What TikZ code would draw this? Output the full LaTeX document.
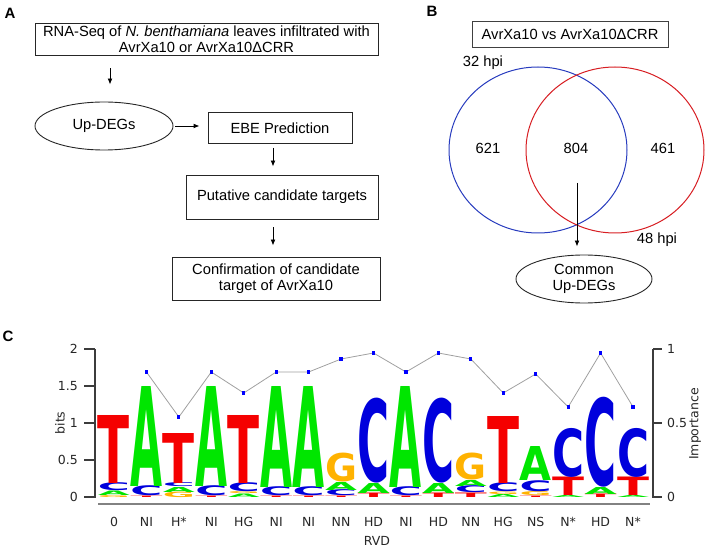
\documentclass[tikz,border=0pt]{standalone}
\usepackage{fontspec}
\usepackage{graphicx}
\setmainfont{Liberation Sans}
\newfontfamily\logofont{DejaVu Sans}
\usetikzlibrary{shapes.geometric,arrows.meta,calc}
\definecolor{lred}{RGB}{245,0,0}
\definecolor{lgreen}{RGB}{0,230,0}
\definecolor{lblue}{RGB}{0,0,220}
\definecolor{lorange}{RGB}{255,178,0}
\definecolor{vblue}{RGB}{40,60,190}
\definecolor{vred}{RGB}{215,30,35}
\definecolor{axgray}{RGB}{60,60,60}
\definecolor{impgray}{RGB}{160,160,160}
\definecolor{basegray}{RGB}{130,130,130}
\tikzset{
  txt/.style={font=\fontsize{14.7}{16.5}\selectfont, align=center, inner sep=0pt},
  flowbox/.style={draw=black!85, line width=0.9pt, txt},
  oval/.style={ellipse, draw=black!85, line width=0.9pt, txt, inner sep=0pt},
  arr/.style={-{Latex[length=6pt,width=4.8pt]}, line width=0.9pt},
  panel/.style={font=\fontsize{15}{15}\selectfont\bfseries, inner sep=0pt},
  ctxt/.style={font=\logofont\fontsize{12.5}{13}\selectfont, inner sep=0pt, text=black!85},
  venn/.style={ellipse, line width=1pt, minimum width=178pt, minimum height=166pt, inner sep=0pt},
}
\newcommand\LL[5]{%
  \pgfmathsetmacro\lx{114+(#1-1)*32.44}%
  \pgfmathsetmacro\lh{#2-#3}%
  \node[inner sep=0pt, outer sep=0pt, anchor=south, text=#5] (L#1#4) at (\lx,#2)
    {\resizebox*{32pt}{\lh pt}{\logofont\bfseries #4}};%
}
\begin{document}
\begin{tikzpicture}[x=1pt,y=-1pt]
\useasboundingbox (0,0) rectangle (705,548);
% ---------------- Panel A
\node[panel] (lA) at (10,13) {A};
\node[flowbox, minimum width=343pt, minimum height=32pt] (rna) at (206.5,39)
  {RNA-Seq of \textit{N. benthamiana} leaves infiltrated with\\AvrXa10 or AvrXa10ΔCRR};
\node[oval, minimum width=138pt, minimum height=48pt] (up) at (104,126) {Up-DEGs};
\node[flowbox, minimum width=144pt, minimum height=31pt] (ebe) at (280,128) {EBE Prediction};
\node[flowbox, minimum width=192pt, minimum height=44pt] (put) at (282,197) {Putative candidate targets};
\node[flowbox, minimum width=208pt, minimum height=43pt] (conf) at (276,278.5)
  {Confirmation of candidate\\target of AvrXa10};
\coordinate (a1) at (110,0);
\coordinate (a2) at (273,0);
\draw[arr, shorten <=13pt, shorten >=17pt] (rna.south -| a1) -- (up.north -| a1);
\draw[arr, shorten <=2pt, shorten >=8pt] (up.east) -- (ebe.west |- up.east);
\draw[arr, shorten <=4pt, shorten >=8pt] (ebe.south -| a2) -- (put.north -| a2);
\draw[arr, shorten <=8pt, shorten >=11pt] (put.south -| a2) -- (conf.north -| a2);
% ---------------- Panel B
\node[panel] (lB) at (432,11) {B};
\node[flowbox, draw=black!75, minimum width=196pt, minimum height=26pt] (cmp) at (570,34) {AvrXa10 vs AvrXa10ΔCRR};
\node[venn, draw=vblue] (v32) at (538,150) {};
\node[venn, draw=vred] (v48) at (615,150) {};
\node[txt] (n621) at (488,148) {621};
\node[txt] (n804) at (576,148) {804};
\node[txt] (n461) at (663,148) {461};
\node[txt] (h32) at (483,63) {32 hpi};
\node[txt] (h48) at (657,240) {48 hpi};
\node[oval, minimum width=136pt, minimum height=48pt] (com) at (584,279) {Common\\Up-DEGs};
\coordinate (vs) at (577,183);
\draw[arr, shorten >=8pt] (vs) -- (com.north -| vs);
% ---------------- Panel C
\node[panel] (lC) at (8,336) {C};
% logo letters (column, bottom, top, letter, colour)
\LL{1}{497.5}{495.5}{G}{lorange}\LL{1}{495.5}{491}{A}{lgreen}\LL{1}{491}{483}{C}{lblue}\LL{1}{483}{415}{T}{lred}
\LL{2}{497.5}{496}{T}{lred}\LL{2}{496}{486}{C}{lblue}\LL{2}{486}{386}{A}{lgreen}
\LL{3}{497.5}{492}{G}{lorange}\LL{3}{492}{487}{A}{lgreen}\LL{3}{487}{483}{C}{lblue}\LL{3}{483}{433}{T}{lred}
\LL{4}{497.5}{496}{T}{lred}\LL{4}{496}{486}{C}{lblue}\LL{4}{486}{386}{A}{lgreen}
\LL{5}{497.5}{494}{A}{lgreen}\LL{5}{494}{492}{G}{lorange}\LL{5}{492}{483}{C}{lblue}\LL{5}{483}{415}{T}{lred}
\LL{6}{497.5}{496}{T}{lred}\LL{6}{496}{487}{C}{lblue}\LL{6}{487}{386}{A}{lgreen}
\LL{7}{497.5}{496}{T}{lred}\LL{7}{496}{487}{C}{lblue}\LL{7}{487}{386}{A}{lgreen}
\LL{8}{497.5}{496}{T}{lred}\LL{8}{496}{490}{C}{lblue}\LL{8}{490}{482}{A}{lgreen}\LL{8}{482}{453}{G}{lorange}
\LL{9}{497.5}{493}{T}{lred}\LL{9}{493}{483}{A}{lgreen}\LL{9}{483}{398}{C}{lblue}
\LL{10}{497.5}{496}{T}{lred}\LL{10}{496}{487}{C}{lblue}\LL{10}{487}{386}{A}{lgreen}
\LL{11}{497.5}{493}{T}{lred}\LL{11}{493}{483}{A}{lgreen}\LL{11}{483}{398}{C}{lblue}
\LL{12}{497.5}{493}{T}{lred}\LL{12}{493}{486}{C}{lblue}\LL{12}{486}{480}{A}{lgreen}\LL{12}{480}{453}{G}{lorange}
\LL{13}{497.5}{494.5}{A}{lgreen}\LL{13}{494.5}{492}{G}{lorange}\LL{13}{492}{483}{C}{lblue}\LL{13}{483}{416}{T}{lred}
\LL{14}{497.5}{496}{T}{lred}\LL{14}{496}{492}{G}{lorange}\LL{14}{492}{481}{C}{lblue}\LL{14}{481}{447}{A}{lgreen}
\LL{15}{497.5}{495.5}{A}{lgreen}\LL{15}{495.5}{477}{T}{lred}\LL{15}{477}{428}{C}{lblue}
\LL{16}{497.5}{494}{T}{lred}\LL{16}{494}{487}{A}{lgreen}\LL{16}{487}{397}{C}{lblue}
\LL{17}{497.5}{495.5}{A}{lgreen}\LL{17}{495.5}{477}{T}{lred}\LL{17}{477}{428}{C}{lblue}
% axes
\draw[basegray, line width=2pt] (98,503.5) -- (650,503.5);
\draw[axgray, line width=1.1pt] (95,349) -- (95,497.5);
\foreach \v/\lab [count=\i] in {0/0,0.5/0.5,1/1,1.5/1.5,2/2}{
  \draw[axgray, line width=1.1pt] (84,497-74*\v) -- (95,497-74*\v);
  \node[ctxt, anchor=east] (bt\i) at (78,497-74*\v) {\lab};
}
\node[ctxt, rotate=90] (bits) at (60,423) {bits};
\draw[axgray, line width=1.1pt] (653,349) -- (653,497.5);
\foreach \v/\lab [count=\i] in {0/0,0.5/0.5,1/1}{
  \draw[axgray, line width=1.1pt] (653,497-148*\v) -- (662,497-148*\v);
  \node[ctxt, anchor=west] (it\i) at (667,497-148*\v) {\lab};
}
\node[ctxt, rotate=90] (imp) at (695,424) {Importance};
\foreach \lab [count=\i] in {0,NI,H*,NI,HG,NI,NI,NN,HD,NI,HD,NN,HG,NS,N*,HD,N*}{
  \node[ctxt] (r\i) at ({114+(\i-1)*32.44},522) {\lab};
}
\node[ctxt] (rvd) at (377,540.5) {RVD};
% importance line
\draw[impgray, line width=0.8pt] plot coordinates {(146.44,372) (178.88,417) (211.32,372) (243.76,393) (276.2,372) (308.64,372) (341.08,359) (373.52,353) (405.96,372) (438.4,353) (470.84,359) (503.28,393) (535.72,374) (568.16,407) (600.6,353) (633.04,407)};
\foreach \px/\py in {146.44/372,178.88/417,211.32/372,243.76/393,276.2/372,308.64/372,341.08/359,373.52/353,405.96/372,438.4/353,470.84/359,503.28/393,535.72/374,568.16/407,600.6/353,633.04/407}{
  \fill[blue] (\px-1.6,\py-1.6) rectangle (\px+1.6,\py+1.6);
}
\end{tikzpicture}
\end{document}
